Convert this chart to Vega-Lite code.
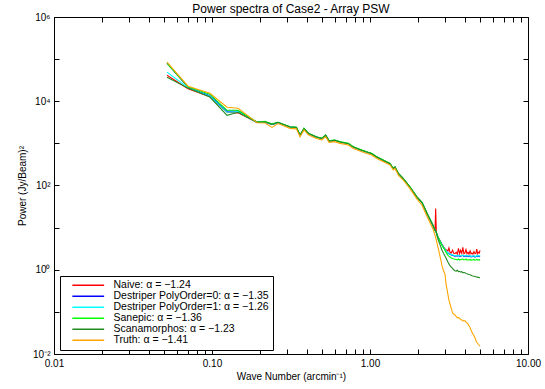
{
  "$schema": "https://vega.github.io/schema/vega-lite/v6.json",
  "width": 474,
  "height": 337,
  "autosize": {"type": "none"},
  "padding": {"left": 54, "top": 17, "right": 17, "bottom": 35},
  "background": "white",
  "title": {"text": "Power spectra of Case2 - Array PSW", "fontSize": 12, "fontWeight": "normal", "font": "Liberation Sans", "color": "black", "offset": 5, "dy": 9},
  "config": {
    "view": {"stroke": "black", "strokeWidth": 1},
    "axis": {"domainColor": "black", "tickColor": "black", "labelColor": "black", "titleColor": "black", "labelFont": "Liberation Sans", "titleFont": "Liberation Sans", "titleFontWeight": "normal", "labelFontSize": 10, "titleFontSize": 10, "grid": false}
  },
  "data": {"values": [
    {"k": 0.0519, "a": 41600, "b": 80400, "c": 49000, "d": 79000, "e": 37300, "t": 84900},
    {"k": 0.0705, "a": 19800, "b": 21500, "c": 21000, "d": 22000, "e": 20500, "t": 22800},
    {"k": 0.097, "a": 12800, "b": 13500, "c": 13200, "d": 14700, "e": 12600, "t": 15500},
    {"k": 0.1245, "a": 5470, "b": 5800, "c": 5470, "d": 6100, "e": 4640, "t": 7200},
    {"k": 0.1462, "a": 5300, "b": 5900, "c": 5600, "d": 6100, "e": 5470, "t": 6810},
    {"k": 0.1928, "a": 3160, "b": 3160, "c": 3160, "d": 3200, "e": 3160, "t": 3100},
    {"k": 0.2165, "a": 3200, "b": 3200, "c": 3200, "d": 3340, "e": 3250, "t": 3050},
    {"k": 0.2398, "a": 2830, "b": 2830, "c": 2830, "d": 2900, "e": 2830, "t": 2400},
    {"k": 0.2618, "a": 3100, "b": 3100, "c": 3100, "d": 3160, "e": 3160, "t": 2950},
    {"k": 0.3118, "a": 2440, "b": 2440, "c": 2440, "d": 2490, "e": 2440, "t": 2270},
    {"k": 0.342, "a": 2380, "b": 2380, "c": 2380, "d": 2430, "e": 2380, "t": 2210},
    {"k": 0.3607, "a": 1550, "b": 1550, "c": 1550, "d": 1580, "e": 1550, "t": 1440},
    {"k": 0.3823, "a": 2240, "b": 2240, "c": 2240, "d": 2280, "e": 2240, "t": 2080},
    {"k": 0.407, "a": 1720, "b": 1720, "c": 1720, "d": 1750, "e": 1720, "t": 1600},
    {"k": 0.4577, "a": 1413, "b": 1413, "c": 1413, "d": 1440, "e": 1413, "t": 1310},
    {"k": 0.494, "a": 1300, "b": 1300, "c": 1300, "d": 1330, "e": 1300, "t": 1210},
    {"k": 0.5241, "a": 1550, "b": 1550, "c": 1550, "d": 1580, "e": 1550, "t": 1440},
    {"k": 0.5508, "a": 1135, "b": 1135, "c": 1135, "d": 1160, "e": 1135, "t": 1060},
    {"k": 0.598, "a": 1180, "b": 1180, "c": 1180, "d": 1200, "e": 1180, "t": 1100},
    {"k": 0.6461, "a": 1075, "b": 1075, "c": 1075, "d": 1100, "e": 1075, "t": 1000},
    {"k": 0.7298, "a": 984, "b": 984, "c": 984, "d": 1000, "e": 984, "t": 915},
    {"k": 0.784, "a": 816, "b": 816, "c": 816, "d": 830, "e": 816, "t": 760},
    {"k": 0.864, "a": 708, "b": 708, "c": 708, "d": 722, "e": 708, "t": 658},
    {"k": 0.953, "a": 621, "b": 621, "c": 621, "d": 633, "e": 621, "t": 578},
    {"k": 1.025, "a": 569, "b": 569, "c": 569, "d": 580, "e": 569, "t": 529},
    {"k": 1.104, "a": 472, "b": 472, "c": 472, "d": 481, "e": 472, "t": 439},
    {"k": 1.216, "a": 394, "b": 394, "c": 394, "d": 402, "e": 394, "t": 366},
    {"k": 1.338, "a": 329, "b": 329, "c": 329, "d": 336, "e": 329, "t": 306},
    {"k": 1.404, "a": 250, "b": 250, "c": 250, "d": 255, "e": 250, "t": 233},
    {"k": 1.439, "a": 273, "b": 273, "c": 273, "d": 278, "e": 273, "t": 254},
    {"k": 1.512, "a": 190, "b": 190, "c": 190, "d": 194, "e": 190, "t": 177},
    {"k": 1.622, "a": 145, "b": 145, "c": 145, "d": 148, "e": 145, "t": 135},
    {"k": 1.791, "a": 91, "b": 91, "c": 91, "d": 93, "e": 91, "t": 84},
    {"k": 1.981, "a": 53, "b": 53, "c": 53, "d": 54, "e": 53, "t": 48},
    {"k": 2.134, "a": 39.4, "b": 39.4, "c": 39.4, "d": 40, "e": 39.4, "t": 34},
    {"k": 2.328, "a": 19.3, "b": 19.3, "c": 19.3, "d": 19.7, "e": 19.3, "t": 16.5},
    {"k": 2.504, "a": 11.2, "b": 11.2, "c": 11.2, "d": 11.4, "e": 11.2, "t": 9.3},
    {"k": 2.58, "a": 8.6, "b": 8.6, "c": 8.6, "d": 8.8, "e": 8.6, "t": 6.6},
    {"k": 2.604, "a": 28.3, "b": 8.2, "c": 8.2, "d": 8.4, "e": 8.2, "t": 5.9},
    {"k": 2.63, "a": 7.6, "b": 7.6, "c": 7.6, "d": 7.8, "e": 7.6, "t": 5.0},
    {"k": 2.694, "a": 6.0, "b": 5.8, "c": 5.8, "d": 5.9, "e": 5.3, "t": 3.4},
    {"k": 2.8, "a": 4.6, "b": 4.5, "c": 4.5, "d": 4.4, "e": 3.6, "t": 1.8},
    {"k": 2.855, "a": 4.0, "b": 3.9, "c": 3.9, "d": 3.8, "e": 2.9, "t": 1.25},
    {"k": 2.92, "a": 3.5, "b": 3.4, "c": 3.4, "d": 3.3, "e": 2.45, "t": 0.95},
    {"k": 2.985, "a": 3.1, "b": 3.0, "c": 3.0, "d": 2.9, "e": 2.1, "t": 0.78},
    {"k": 3.027, "a": 3.0, "b": 2.8, "c": 2.8, "d": 2.6, "e": 1.9, "t": 0.46},
    {"k": 3.08, "a": 2.9, "b": 2.6, "c": 2.6, "d": 2.35, "e": 1.65, "t": 0.33},
    {"k": 3.117, "a": 2.8, "b": 2.5, "c": 2.5, "d": 2.2, "e": 1.5, "t": 0.25},
    {"k": 3.16, "a": 3.3, "b": 2.4, "c": 2.45, "d": 2.1, "e": 1.38, "t": 0.19},
    {"k": 3.208, "a": 2.6, "b": 2.35, "c": 2.35, "d": 2.0, "e": 1.25, "t": 0.155},
    {"k": 3.27, "a": 2.5, "b": 2.25, "c": 2.3, "d": 1.9, "e": 1.15, "t": 0.12},
    {"k": 3.33, "a": 2.9, "b": 2.2, "c": 2.25, "d": 1.85, "e": 1.08, "t": 0.095},
    {"k": 3.39, "a": 2.45, "b": 2.15, "c": 2.2, "d": 1.8, "e": 1.0, "t": 0.088},
    {"k": 3.45, "a": 2.4, "b": 2.1, "c": 2.15, "d": 1.78, "e": 0.95, "t": 0.085},
    {"k": 3.51, "a": 2.6, "b": 2.15, "c": 2.2, "d": 1.75, "e": 0.93, "t": 0.078},
    {"k": 3.57, "a": 2.35, "b": 2.1, "c": 2.1, "d": 1.72, "e": 0.97, "t": 0.072},
    {"k": 3.63, "a": 3.2, "b": 2.2, "c": 2.2, "d": 1.8, "e": 0.9, "t": 0.074},
    {"k": 3.69, "a": 2.4, "b": 2.05, "c": 2.1, "d": 1.7, "e": 0.92, "t": 0.07},
    {"k": 3.75, "a": 2.9, "b": 2.1, "c": 2.15, "d": 1.75, "e": 0.88, "t": 0.066},
    {"k": 3.81, "a": 2.45, "b": 2.15, "c": 2.2, "d": 1.78, "e": 0.9, "t": 0.064},
    {"k": 3.87, "a": 3.4, "b": 2.2, "c": 2.2, "d": 1.8, "e": 0.85, "t": 0.062},
    {"k": 3.93, "a": 2.4, "b": 2.05, "c": 2.1, "d": 1.72, "e": 0.86, "t": 0.061},
    {"k": 3.99, "a": 2.5, "b": 2.1, "c": 2.15, "d": 1.75, "e": 0.85, "t": 0.061},
    {"k": 4.05, "a": 3.0, "b": 2.15, "c": 2.2, "d": 1.8, "e": 0.82, "t": 0.058},
    {"k": 4.11, "a": 2.4, "b": 2.05, "c": 2.1, "d": 1.7, "e": 0.8, "t": 0.055},
    {"k": 4.17, "a": 2.6, "b": 2.1, "c": 2.15, "d": 1.72, "e": 0.78, "t": 0.052},
    {"k": 4.23, "a": 2.35, "b": 2.05, "c": 2.1, "d": 1.7, "e": 0.77, "t": 0.047},
    {"k": 4.3, "a": 2.8, "b": 2.1, "c": 2.15, "d": 1.75, "e": 0.76, "t": 0.042},
    {"k": 4.36, "a": 2.4, "b": 2.0, "c": 2.05, "d": 1.68, "e": 0.74, "t": 0.037},
    {"k": 4.42, "a": 2.5, "b": 2.1, "c": 2.1, "d": 1.72, "e": 0.72, "t": 0.033},
    {"k": 4.48, "a": 2.35, "b": 2.05, "c": 2.1, "d": 1.7, "e": 0.71, "t": 0.03},
    {"k": 4.55, "a": 2.7, "b": 2.1, "c": 2.15, "d": 1.75, "e": 0.7, "t": 0.027},
    {"k": 4.62, "a": 2.4, "b": 2.0, "c": 2.05, "d": 1.68, "e": 0.69, "t": 0.024},
    {"k": 4.68, "a": 2.45, "b": 2.05, "c": 2.1, "d": 1.7, "e": 0.68, "t": 0.021},
    {"k": 4.74, "a": 3.1, "b": 2.15, "c": 2.2, "d": 1.78, "e": 0.67, "t": 0.019},
    {"k": 4.8, "a": 2.4, "b": 2.05, "c": 2.1, "d": 1.7, "e": 0.66, "t": 0.018},
    {"k": 4.86, "a": 2.6, "b": 2.1, "c": 2.15, "d": 1.72, "e": 0.66, "t": 0.0168},
    {"k": 4.92, "a": 2.5, "b": 2.05, "c": 2.1, "d": 1.7, "e": 0.65, "t": 0.016},
    {"k": 4.97, "a": 2.9, "b": 2.1, "c": 2.2, "d": 1.75, "e": 0.645, "t": 0.0155}
  ]},
  "transform": [{"fold": ["a", "b", "c", "d", "e", "t"], "as": ["s", "p"]}],
  "layer": [
    {
      "mark": {"type": "line", "strokeWidth": 1.1, "clip": true},
      "encoding": {
        "x": {"field": "k", "type": "quantitative", "scale": {"type": "log", "domain": [0.01, 10], "nice": false},
          "axis": {"orient": "bottom", "values": [0.01, 0.02, 0.03, 0.04, 0.05, 0.06, 0.07, 0.08, 0.09, 0.1, 0.2, 0.3, 0.4, 0.5, 0.6, 0.7, 0.8, 0.9, 1, 2, 3, 4, 5, 6, 7, 8, 9, 10],
            "labelExpr": "indexof([0.01, 0.1, 1, 10], datum.value) >= 0 ? format(datum.value, '.2f') : ''",
            "tickSize": -5, "labelPadding": 9, "labelOverlap": false, "labelFlush": false, "domain": false,
            "title": "Wave Number (arcmin⁻¹)", "titleY": 22, "titleBaseline": "middle"}},
        "y": {"field": "p", "type": "quantitative", "scale": {"type": "log", "domain": [0.01, 1000000], "nice": false},
          "axis": {"orient": "left", "values": [0.01, 0.1, 1, 10, 100, 1000, 10000, 100000, 1000000],
            "labelExpr": "{'-2': '10⁻²', '0': '10⁰', '2': '10²', '4': '10⁴', '6': '10⁶'}['' + round(log(datum.value) / LN10)] || ''",
            "tickSize": -5, "labelPadding": 9, "labelOverlap": false, "labelFlush": false, "domain": false,
            "title": "Power (Jy/Beam)²", "titleX": -32, "titleBaseline": "middle"}},
        "color": {"field": "s", "type": "nominal",
          "scale": {"domain": ["a", "b", "c", "d", "e", "t"], "range": ["#ff0000", "#0000ff", "#00ffff", "#00ff00", "#228b22", "#ffa500"]},
          "legend": {"orient": "none", "legendX": 6, "legendY": 259, "title": null,
            "labelExpr": "{'a': 'Naive: α = −1.24', 'b': 'Destriper PolyOrder=0: α = −1.35', 'c': 'Destriper PolyOrder=1: α = −1.26', 'd': 'Sanepic: α = −1.36', 'e': 'Scanamorphos: α = −1.23', 't': 'Truth: α = −1.41'}[datum.label]",
            "symbolType": "M-6,0H6", "symbolSize": 28, "symbolStrokeWidth": 1.5, "symbolOffset": 19, "labelOffset": 20,
            "labelFont": "Liberation Sans", "labelFontSize": 10.5, "labelColor": "black", "labelLimit": 300,
            "rowPadding": 0, "padding": 4, "strokeColor": "black", "fillColor": "white"}}
      }
    },
    {
      "mark": {"type": "line", "opacity": 0},
      "encoding": {
        "x": {"field": "k", "type": "quantitative",
          "axis": {"orient": "top", "values": [0.01, 0.02, 0.03, 0.04, 0.05, 0.06, 0.07, 0.08, 0.09, 0.1, 0.2, 0.3, 0.4, 0.5, 0.6, 0.7, 0.8, 0.9, 1, 2, 3, 4, 5, 6, 7, 8, 9, 10],
            "labels": false, "tickSize": -5, "domain": false, "title": null}},
        "y": {"field": "p", "type": "quantitative",
          "axis": {"orient": "right", "values": [0.01, 0.1, 1, 10, 100, 1000, 10000, 100000, 1000000],
            "labels": false, "tickSize": -5, "domain": false, "title": null}}
      }
    }
  ],
  "resolve": {"axis": {"x": "independent", "y": "independent"}}
}
